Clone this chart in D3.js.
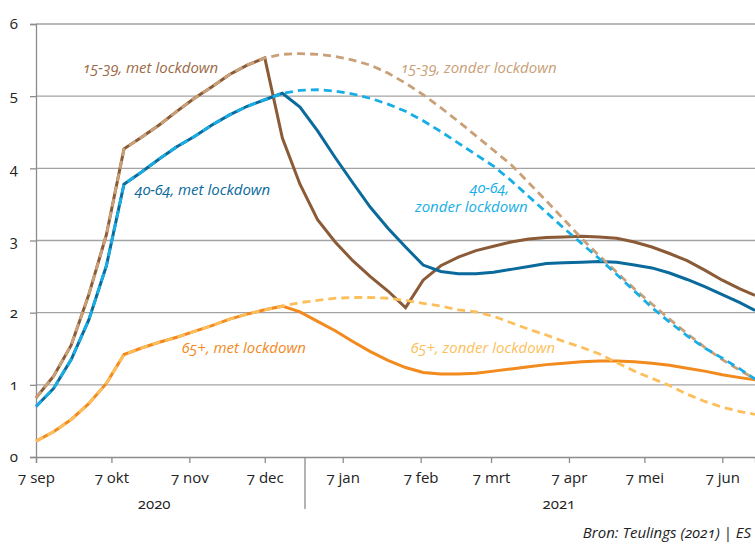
<!DOCTYPE html>
<html>
<head>
<meta charset="utf-8">
<script src="https://cdn.jsdelivr.net/npm/d3@7"></script>
<style>
  body { margin: 0; background: #fff; }
  svg text { font-family: "Open Sans", "Noto Sans", sans-serif; font-variant-numeric: oldstyle-nums; }
</style>
</head>
<body>
<div id="chart-container"></div>
<script>
// days after 7 sep 2020 (weekly points)
const dayOffsets = [0, 7, 14, 21, 28, 35, 42, 49, 56, 63, 70, 77, 84, 91, 98, 105, 112, 119, 126, 133, 140,
  147, 154, 161, 168, 175, 182, 189, 196, 203, 210, 217, 224, 231, 238, 245, 252, 259, 266, 273, 280, 286];

const young15_39Met = [0.82, 1.12, 1.55, 2.25, 3.08, 4.27, 4.43, 4.60, 4.79, 4.97, 5.13, 5.30, 5.43, 5.53,
  4.42, 3.78, 3.29, 2.98, 2.72, 2.50, 2.30, 2.07, 2.45, 2.65, 2.77, 2.86, 2.92, 2.98, 3.02, 3.04, 3.05,
  3.06, 3.05, 3.03, 2.98, 2.91, 2.82, 2.72, 2.59, 2.45, 2.33, 2.24];
const young15_39Zonder = [0.82, 1.12, 1.55, 2.25, 3.08, 4.27, 4.43, 4.60, 4.79, 4.97, 5.13, 5.30, 5.43, 5.53,
  5.58, 5.59, 5.58, 5.55, 5.50, 5.43, 5.32, 5.18, 5.02, 4.84, 4.65, 4.45, 4.25, 4.05, 3.80, 3.55, 3.29,
  3.03, 2.79, 2.56, 2.33, 2.12, 1.91, 1.71, 1.52, 1.35, 1.20, 1.08];

const mid40_64Met = [0.70, 0.95, 1.35, 1.90, 2.65, 3.78, 3.95, 4.13, 4.30, 4.44, 4.60, 4.74, 4.86, 4.95,
  5.04, 4.85, 4.52, 4.15, 3.80, 3.46, 3.17, 2.91, 2.66, 2.57, 2.54, 2.54, 2.56, 2.60, 2.64, 2.68, 2.69,
  2.70, 2.71, 2.70, 2.66, 2.62, 2.55, 2.46, 2.36, 2.25, 2.14, 2.03];
const mid40_64Zonder = [0.70, 0.95, 1.35, 1.90, 2.65, 3.78, 3.95, 4.13, 4.30, 4.44, 4.60, 4.74, 4.86, 4.95,
  5.04, 5.08, 5.09, 5.07, 5.03, 4.97, 4.89, 4.79, 4.66, 4.51, 4.35, 4.19, 4.03, 3.83, 3.61, 3.39, 3.17,
  2.96, 2.75, 2.53, 2.30, 2.07, 1.87, 1.68, 1.51, 1.37, 1.22, 1.08];

const old65Met = [0.22, 0.35, 0.52, 0.74, 1.02, 1.42, 1.51, 1.59, 1.66, 1.74, 1.82, 1.91, 1.98, 2.04,
  2.09, 2.01, 1.88, 1.75, 1.60, 1.46, 1.34, 1.24, 1.17, 1.15, 1.15, 1.16, 1.19, 1.22, 1.25, 1.28, 1.30,
  1.32, 1.33, 1.33, 1.32, 1.30, 1.27, 1.23, 1.19, 1.14, 1.10, 1.07];
const old65Zonder = [0.22, 0.35, 0.52, 0.74, 1.02, 1.42, 1.51, 1.59, 1.66, 1.74, 1.82, 1.91, 1.98, 2.04,
  2.09, 2.14, 2.17, 2.20, 2.21, 2.21, 2.20, 2.17, 2.13, 2.09, 2.04, 2.01, 1.95, 1.86, 1.77, 1.69, 1.60,
  1.52, 1.43, 1.31, 1.19, 1.09, 0.99, 0.87, 0.77, 0.69, 0.63, 0.59];

const xTickDates = ["2020-09-07", "2020-10-07", "2020-11-07", "2020-12-07", "2021-01-07", "2021-02-07",
  "2021-03-07", "2021-04-07", "2021-05-07", "2021-06-07"];
const xTickLabels = ["7 sep", "7 okt", "7 nov", "7 dec", "7 jan", "7 feb", "7 mrt", "7 apr", "7 mei", "7 jun"];
const yTicks = [0, 1, 2, 3, 4, 5, 6];
const yTickLabels = ["0", "1", "2", "3", "4", "5", "6"];
const years = ["2020", "2021"];

(() => {
  const W = 755, H = 547;
  const margin = { top: 24, right: 0, bottom: 90, left: 36 };
  const width = W - margin.left - margin.right;
  const height = H - margin.top - margin.bottom;

  const parse = d3.timeParse("%Y-%m-%d");
  const start = parse("2020-09-07");
  const end = parse("2021-06-20");

  const svg = d3.select("#chart-container")
    .append("svg")
    .attr("width", W)
    .attr("height", H)
    .append("g")
    .attr("transform", `translate(${margin.left},${margin.top})`);

  const x = d3.scaleTime().domain([start, end]).range([0, width]);
  const y = d3.scaleLinear().domain([0, 6]).range([height, 0]);

  // gridlines
  svg.append("g")
    .selectAll("line")
    .data(yTicks.filter(d => d > 0))
    .enter().append("line")
    .attr("x1", 0).attr("x2", width)
    .attr("y1", d => y(d)).attr("y2", d => y(d))
    .attr("stroke", "#a3a3a3")
    .attr("stroke-width", 1.3);

  // y axis
  const yAxis = svg.append("g")
    .call(d3.axisLeft(y).tickValues(yTicks).tickSize(6).tickPadding(12)
      .tickFormat((d, i) => yTickLabels[i]));
  yAxis.select(".domain").attr("stroke", "#8c8c8c").attr("stroke-width", 1.3);
  yAxis.selectAll(".tick line").attr("stroke", "#8c8c8c").attr("stroke-width", 1.3);
  yAxis.selectAll(".tick text").style("font-size", "15px").attr("fill", "#222");

  // x axis
  const xAxis = svg.append("g")
    .attr("transform", `translate(0,${height})`)
    .call(d3.axisBottom(x).tickValues(xTickDates.map(parse)).tickSize(6).tickPadding(9)
      .tickFormat((d, i) => xTickLabels[i]));
  xAxis.select(".domain").attr("stroke", "#8c8c8c").attr("stroke-width", 1.3);
  xAxis.selectAll(".tick line").attr("stroke", "#8c8c8c").attr("stroke-width", 1.3);
  xAxis.selectAll(".tick text").style("font-size", "15px").attr("fill", "#222");

  // year separator and labels
  const yearSplit = x(parse("2020-12-23"));
  svg.append("line")
    .attr("x1", yearSplit).attr("x2", yearSplit)
    .attr("y1", height).attr("y2", height + 52)
    .attr("stroke", "#8c8c8c").attr("stroke-width", 1.3);
  const yearPos = [x(parse("2020-10-24")), x(parse("2021-04-03"))];
  svg.selectAll(".year")
    .data(years)
    .enter().append("text")
    .attr("class", "year")
    .attr("x", (d, i) => yearPos[i])
    .attr("y", height + 52)
    .attr("text-anchor", "middle")
    .style("font-size", "15px")
    .attr("fill", "#222")
    .text(d => d);

  const dates = dayOffsets.map(d => d3.timeDay.offset(start, d));
  const line = d3.line()
    .x(d => x(d.date))
    .y(d => y(d.value));
  const toPoints = vals => vals.map((v, i) => ({ date: dates[i], value: v }));

  const series = [
    { values: young15_39Met, color: "#8a5b36", dash: null, width: 3 },
    { values: mid40_64Met, color: "#0a6a9b", dash: null, width: 3 },
    { values: old65Met, color: "#f28a1e", dash: null, width: 3 },
    { values: young15_39Zonder, color: "#c9a077", dash: "8,5", width: 2.8 },
    { values: mid40_64Zonder, color: "#17aee6", dash: "8,5", width: 2.8 },
    { values: old65Zonder, color: "#fdbf5c", dash: "8,5", width: 2.8 }
  ];

  svg.selectAll(".series")
    .data(series)
    .enter().append("path")
    .attr("class", "series")
    .attr("d", d => line(toPoints(d.values)))
    .attr("fill", "none")
    .attr("stroke", d => d.color)
    .attr("stroke-width", d => d.width)
    .attr("stroke-dasharray", d => d.dash)
    .attr("stroke-linejoin", "miter");

  // line labels (multi-line labels as tspans)
  const labels = [
    { lines: ["15-39, met lockdown"], x: [83], y: 73, color: "#9c6a45" },
    { lines: ["15-39, zonder lockdown"], x: [401], y: 73, color: "#c9a077" },
    { lines: ["40-64, met lockdown"], x: [135], y: 195, color: "#0a6a9b" },
    { lines: ["40-64,", "zonder lockdown"], x: [470, 415], y: 193, color: "#17aee6" },
    { lines: ["65+, met lockdown"], x: [182], y: 353, color: "#f28a1e" },
    { lines: ["65+, zonder lockdown"], x: [411], y: 353, color: "#fdbf5c" }
  ];
  d3.select("svg").selectAll(".lbl")
    .data(labels)
    .enter().append("text")
    .attr("class", "lbl")
    .attr("y", d => d.y)
    .style("font-size", "15px")
    .style("font-style", "italic")
    .attr("fill", d => d.color)
    .each(function (d) {
      d3.select(this).selectAll("tspan")
        .data(d.lines)
        .enter().append("tspan")
        .attr("x", (t, i) => d.x[i])
        .attr("dy", (t, i) => i === 0 ? 0 : 19)
        .text(t => t);
    });

  d3.select("svg").append("text")
    .attr("x", 751)
    .attr("y", 538)
    .attr("text-anchor", "end")
    .style("font-size", "15px")
    .style("font-style", "italic")
    .attr("fill", "#222")
    .text("Bron: Teulings (2021) | ES");
})();
</script>
</body>
</html>
